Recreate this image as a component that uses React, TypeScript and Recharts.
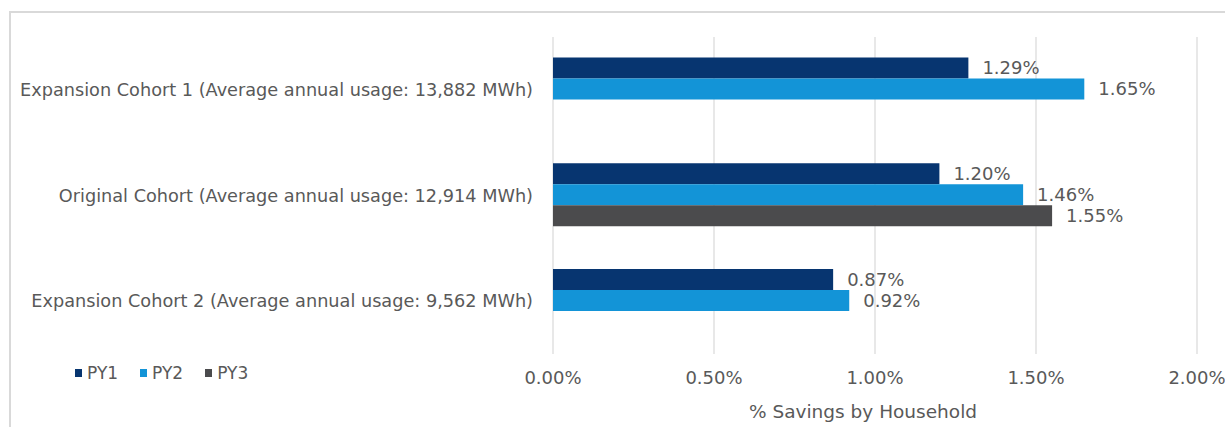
import React from 'react';
import { BarChart, Bar, XAxis, YAxis, CartesianGrid, LabelList } from 'recharts';

const categories = [
  'Expansion Cohort 1 (Average annual usage: 13,882 MWh)',
  'Original Cohort (Average annual usage: 12,914 MWh)',
  'Expansion Cohort 2 (Average annual usage: 9,562 MWh)',
];
const py1 = [1.29, 1.2, 0.87];
const py2 = [1.65, 1.46, 0.92];
const py3: (number | null)[] = [null, 1.55, null];
const xTicks = [0, 0.5, 1, 1.5, 2];
const seriesNames = ['PY1', 'PY2', 'PY3'];
const seriesColors = ['#073570', '#1394D7', '#4B4B4D'];

const data = categories.map((c, i) => ({ name: c, PY1: py1[i], PY2: py2[i], PY3: py3[i] }));

const FONT = '"DejaVu Sans", sans-serif';
const GRAY = '#595959';

const fmt = (v: any) => (v == null ? '' : `${Number(v).toFixed(2)}%`);

export default function App() {
  return (
    <div style={{ position: 'absolute', left: 0, top: 0, width: 1225, height: 427, overflow: 'hidden', background: '#fff' }}>
      <div style={{ position: 'absolute', left: 9, top: 11, width: 1300, height: 500, border: '2px solid #d9d9d9', boxSizing: 'border-box' }} />
      <BarChart
        width={1225}
        height={427}
        data={data}
        layout="vertical"
        margin={{ top: 37, right: 28, bottom: 0, left: 0 }}
        barCategoryGap="19.5%"
        barGap={0}
        style={{ position: 'absolute', left: 0, top: 0 }}
      >
        <CartesianGrid horizontal={false} stroke="#d9d9d9" strokeWidth={1.2} />
        <XAxis
          type="number"
          domain={[0, 2]}
          ticks={xTicks}
          tickFormatter={fmt}
          axisLine={false}
          tickLine={false}
          tickSize={0}
          tickMargin={17}
          height={73}
          tick={{ fill: GRAY, fontSize: 18, fontFamily: FONT }}
          label={{ value: '% Savings by Household', position: 'insideBottom', offset: 9, dx: -12, fill: GRAY, fontSize: 18.5, fontFamily: FONT }}
        />
        <YAxis
          type="category"
          dataKey="name"
          width={553}
          axisLine={false}
          tickLine={false}
          tickSize={0}
          tickMargin={20}
          tick={{ fill: GRAY, fontSize: 17.7, fontFamily: FONT }}
        />
        {seriesNames.map((n, i) => (
          <Bar key={n} dataKey={n} fill={seriesColors[i]} isAnimationActive={false}>
            <LabelList dataKey={n} position="right" offset={14} formatter={fmt} fill={GRAY} fontSize={18} fontFamily={FONT} />
          </Bar>
        ))}
      </BarChart>
      <div style={{ position: 'absolute', left: 75, top: 363, display: 'flex', alignItems: 'center', fontFamily: FONT, fontSize: 17, color: GRAY }}>
        {seriesNames.map((n, i) => (
          <div key={n} style={{ display: 'flex', alignItems: 'center', marginRight: 22 }}>
            <span style={{ display: 'inline-block', width: 7, height: 8, background: seriesColors[i], marginRight: 5 }} />
            <span>{n}</span>
          </div>
        ))}
      </div>
    </div>
  );
}
